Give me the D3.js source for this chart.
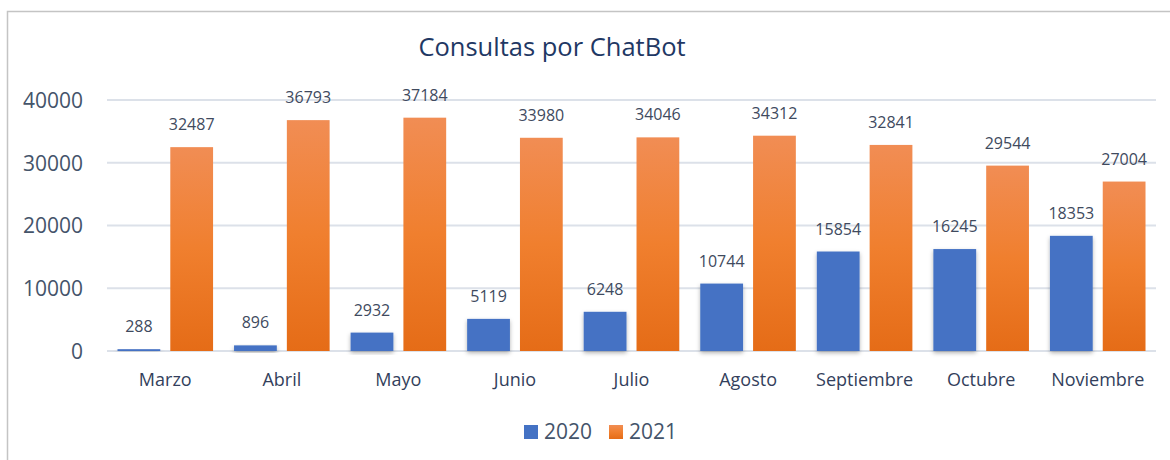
<!DOCTYPE html>
<html>
<head>
<meta charset="utf-8">
<script src="https://cdn.jsdelivr.net/npm/d3@7"></script>
<style>
  body { margin: 0; background: #fff; }
  text { font-family: "Open Sans", "Noto Sans", sans-serif; }
</style>
</head>
<body>
<div id="container"></div>
<script>
var months = ['Marzo', 'Abril', 'Mayo', 'Junio', 'Julio', 'Agosto', 'Septiembre', 'Octubre', 'Noviembre'],
    series = ['2020', '2021'],
    values2020 = [288, 896, 2932, 5119, 6248, 10744, 15854, 16245, 18353],
    values2021 = [32487, 36793, 37184, 33980, 34046, 34312, 32841, 29544, 27004],
    yTicks = [0, 10000, 20000, 30000, 40000];

var w = 1170, h = 460,
    margin = {top: 100, right: 14, bottom: 109, left: 107};

var data = months.map((m, i) => ({month: m, vals: [values2020[i], values2021[i]]}));

var svg = d3.select('#container').append('svg')
    .attr('width', w)
    .attr('height', h);

// gradient for the orange bars
var defs = svg.append('defs');
var grad = defs.append('linearGradient').attr('id', 'orangeGrad')
    .attr('x1', 0).attr('y1', 0).attr('x2', 0).attr('y2', 1);
grad.append('stop').attr('offset', '0%').attr('stop-color', '#F18D54');
grad.append('stop').attr('offset', '50%').attr('stop-color', '#F07F2E');
grad.append('stop').attr('offset', '100%').attr('stop-color', '#E56C17');

var shadow = defs.append('filter').attr('id', 'shadow')
    .attr('x', '-20%').attr('y', '-10%').attr('width', '140%').attr('height', '130%');
shadow.append('feDropShadow')
    .attr('dx', 0).attr('dy', 2).attr('stdDeviation', 2)
    .attr('flood-color', '#000').attr('flood-opacity', 0.3);

/* outer frame (cut off at right and bottom like the screenshot) */
svg.append('rect')
    .attr('x', 7.5).attr('y', 11.5)
    .attr('width', w).attr('height', h)
    .attr('fill', 'none').attr('stroke', '#C4C4C4').attr('stroke-width', 1.5);

/* scales */
var x0 = d3.scaleBand()
    .domain(months)
    .range([margin.left, w - margin.right])
    .paddingInner(0.18).paddingOuter(0.09);

var x1 = d3.scaleBand()
    .domain(series)
    .range([0, x0.bandwidth()])
    .paddingInner(0.19);

var y = d3.scaleLinear()
    .domain([0, 40000])
    .range([h - margin.bottom, margin.top]);

var color = d3.scaleOrdinal().domain(series).range(['#4472C4', 'url(#orangeGrad)']);

/* gridlines */
svg.append('g').classed('grid', true)
    .selectAll('line').data(yTicks).enter().append('line')
        .attr('x1', margin.left).attr('x2', w - margin.right)
        .attr('y1', d => y(d)).attr('y2', d => y(d))
        .attr('stroke', '#DCE1E9').attr('stroke-width', 2);

/* y axis */
var yAxis = d3.axisLeft(y).tickValues(yTicks).tickSize(0).tickPadding(0).tickFormat(d3.format('d'));
svg.append('g')
    .attr('transform', 'translate(83,0)')
    .call(yAxis)
    .call(g => g.select('.domain').remove())
    .selectAll('text')
        .attr('font-size', 21).attr('fill', '#44546A').attr('dy', '0.35em');

/* x axis */
var xAxis = d3.axisBottom(x0).tickSize(0).tickPadding(0);
svg.append('g')
    .attr('transform', `translate(0, ${h - margin.bottom})`)
    .call(xAxis)
    .call(g => g.select('.domain').remove())
    .selectAll('text')
        .attr('font-size', 18).attr('fill', '#333F5C').attr('dy', 0).attr('y', 35);

/* bars */
var groups = svg.append('g').selectAll('.month').data(data).enter().append('g')
    .classed('month', true)
    .attr('transform', d => `translate(${x0(d.month)},0)`);

groups.selectAll('rect').data(d => d.vals.map((v, i) => ({key: series[i], v: v}))).enter().append('rect')
    .attr('x', d => x1(d.key))
    .attr('y', d => y(d.v))
    .attr('width', x1.bandwidth())
    .attr('height', d => y(0) - y(d.v))
    .attr('fill', d => color(d.key))
    .attr('filter', d => d.key == '2020' ? 'url(#shadow)' : null);

/* data labels */
groups.selectAll('.labels').data(d => d.vals.map((v, i) => ({key: series[i], v: v}))).enter().append('text')
    .classed('labels', true)
    .attr('x', d => x1(d.key) + x1.bandwidth() / 2)
    .attr('y', d => y(d.v) - 17)
    .attr('text-anchor', 'middle')
    .attr('font-size', 16).attr('fill', '#404A5E')
    .text(d => d.v);

/* title */
svg.append('text')
    .attr('x', 552).attr('y', 56)
    .attr('text-anchor', 'middle')
    .attr('font-size', 25.5).attr('fill', '#1F3864')
    .text('Consultas por ChatBot');

/* legend */
var legend = svg.append('g').selectAll('g').data(series).enter().append('g')
    .attr('transform', (d, i) => `translate(${524 + i * 85}, 425)`);
legend.append('rect')
    .attr('width', 14).attr('height', 14)
    .attr('fill', d => color(d));
legend.append('text')
    .attr('x', 20).attr('y', 14)
    .attr('font-size', 21).attr('fill', '#44546A')
    .text(d => d);
</script>
</body>
</html>
